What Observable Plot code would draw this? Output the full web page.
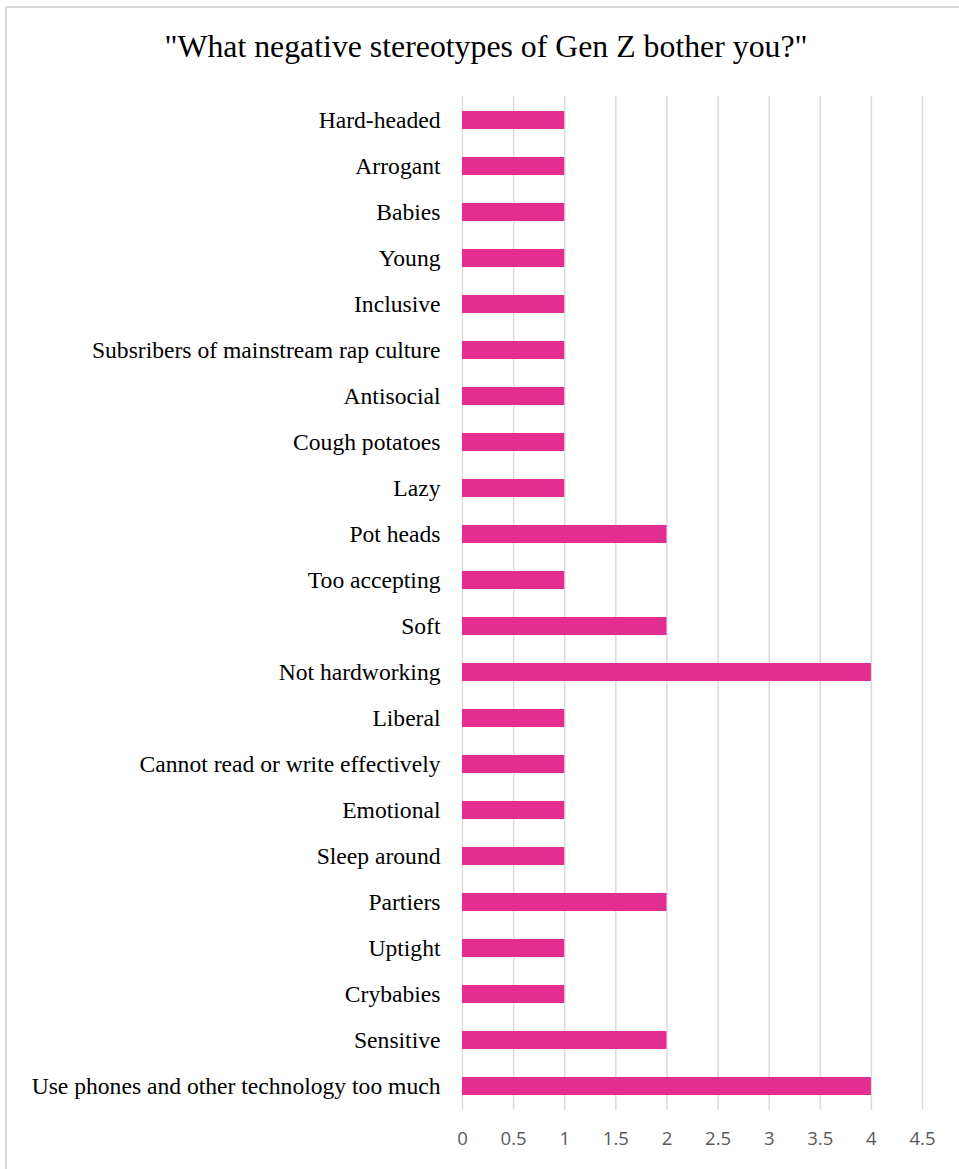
<!DOCTYPE html>
<html>
<head>
<meta charset="utf-8">
<script src="https://cdn.jsdelivr.net/npm/d3@7"></script>
<script src="https://cdn.jsdelivr.net/npm/@observablehq/plot@0.6"></script>
<style>
  html, body { margin: 0; padding: 0; background: #fff; overflow: hidden; }
  #wrap { position: relative; width: 959px; height: 1169px; }
  #frame { position: absolute; left: 5px; top: 6px; width: 2000px; height: 2000px; border: 2px solid #d9d9d9; box-sizing: border-box; pointer-events: none; }
  #title { position: relative; width: 972px; height: 80px; text-align: center; font-family: "Liberation Serif", "Times New Roman", serif; font-size: 31.8px; line-height: 94px; color: #000; white-space: nowrap; }
  #chart { position: relative; }
</style>
</head>
<body>
<div id="wrap">
  <div id="frame"></div>
  <div id="title">"What negative stereotypes of Gen Z bother you?"</div>
  <div id="chart"></div>
</div>
<script>
const categories = [
  "Hard-headed",
  "Arrogant",
  "Babies",
  "Young",
  "Inclusive",
  "Subsribers of mainstream rap culture",
  "Antisocial",
  "Cough potatoes",
  "Lazy",
  "Pot heads",
  "Too accepting",
  "Soft",
  "Not hardworking",
  "Liberal",
  "Cannot read or write effectively",
  "Emotional",
  "Sleep around",
  "Partiers",
  "Uptight",
  "Crybabies",
  "Sensitive",
  "Use phones and other technology too much"
];
const counts = [1, 1, 1, 1, 1, 1, 1, 1, 1, 2, 1, 2, 4, 1, 1, 1, 1, 2, 1, 1, 2, 4];
const xTicks = [0, 0.5, 1, 1.5, 2, 2.5, 3, 3.5, 4, 4.5];

const data = categories.map((c, i) => ({category: c, value: counts[i]}));

const chart = Plot.plot({
  width: 959,
  height: 1089,
  marginTop: 16,
  marginBottom: 59,
  marginLeft: 462,
  marginRight: 37,
  style: {background: "transparent", overflow: "visible"},
  x: {domain: [0, 4.5], ticks: xTicks, label: null},
  y: {domain: categories, label: null, paddingInner: 0.61, paddingOuter: 0.305},
  marks: [
    Plot.ruleX(xTicks, {stroke: "#d9d9d9", strokeWidth: 1.5, y1: null, y2: null}),
    Plot.barX(data, {x: "value", y: "category", fill: "#e32d91"}),
    Plot.axisX({ticks: xTicks, tickSize: 0, tickPadding: 21, tickFormat: d => String(d), fontSize: 18.5, fill: "#595959", fontFamily: "'Open Sans', 'Liberation Sans', sans-serif", label: null}),
    Plot.axisY({tickSize: 0, tickPadding: 22, fontSize: 23.6, fill: "#000", fontFamily: "'Liberation Serif', 'Times New Roman', serif", label: null})
  ]
});
document.getElementById("chart").appendChild(chart);
</script>
</body>
</html>
